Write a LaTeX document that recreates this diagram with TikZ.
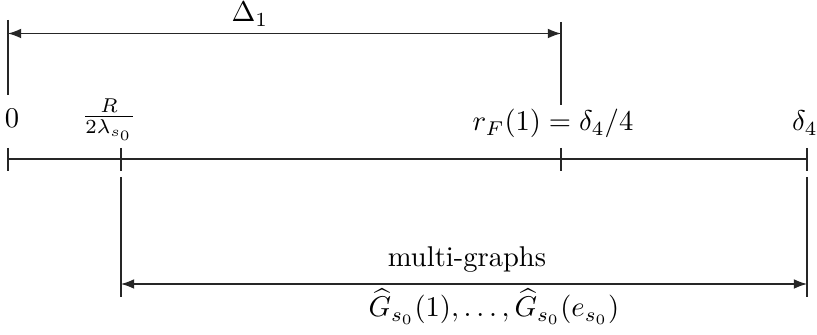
\documentclass[tikz,border=0pt]{standalone}
\usetikzlibrary{arrows.meta}
\begin{document}
\begin{tikzpicture}[x=0.35pt,y=-0.35pt,line width=0.4pt,
  ln/.style={draw=black!85},
  dim/.style={ln,{Latex[length=4.6pt,width=3.4pt]}-{Latex[length=4.6pt,width=3.4pt]}},
  lbl/.style={anchor=base,inner sep=0pt}]
\useasboundingbox (0,0) rectangle (817,335);
% axis
\coordinate (A) at (8,159);
\coordinate (B) at (807,159);
\draw[ln] (A) -- (B);
% ticks
\foreach \x/\n in {8/t0,121/t1,561/t2,807/t3}{
  \coordinate (\n u) at (\x,148);
  \coordinate (\n d) at (\x,171);
  \draw[ln] (\n u) -- (\n d);
}
% upper extension lines
\coordinate (u0a) at (8,20);   \coordinate (u0b) at (8,95);
\coordinate (u1a) at (561,22); \coordinate (u1b) at (561,105);
\draw[ln] (u0a) -- (u0b);
\draw[ln] (u1a) -- (u1b);
\coordinate (ar0) at (8,33.5);
\coordinate (ar1) at (561,33.5);
\draw[dim] (ar0) -- (ar1);
% lower extension lines
\coordinate (l0a) at (121,177); \coordinate (l0b) at (121,297);
\coordinate (l1a) at (807,177); \coordinate (l1b) at (807,297);
\draw[ln] (l0a) -- (l0b);
\draw[ln] (l1a) -- (l1b);
\coordinate (br0) at (121,284);
\coordinate (br1) at (807,284);
\draw[dim] (br0) -- (br1);
% labels
\node[lbl] (D1) at (250,22) {$\Delta_1$};
\node[lbl] (L0) at (12,128) {$0$};
\node[lbl] (LR) at (109,123.5) {$\frac{R}{2\lambda_{s_0}}$};
\node[lbl] (LF) at (553,131) {$r_F(1)=\delta_4/4$};
\node[lbl] (LD) at (805,131) {$\delta_4$};
\node[lbl] (LM) at (467,267) {multi-graphs};
\node[lbl] (LG) at (494,317) {$\widehat{G}_{s_0}(1),\ldots,\widehat{G}_{s_0}(e_{s_0})$};
\end{tikzpicture}
\end{document}
